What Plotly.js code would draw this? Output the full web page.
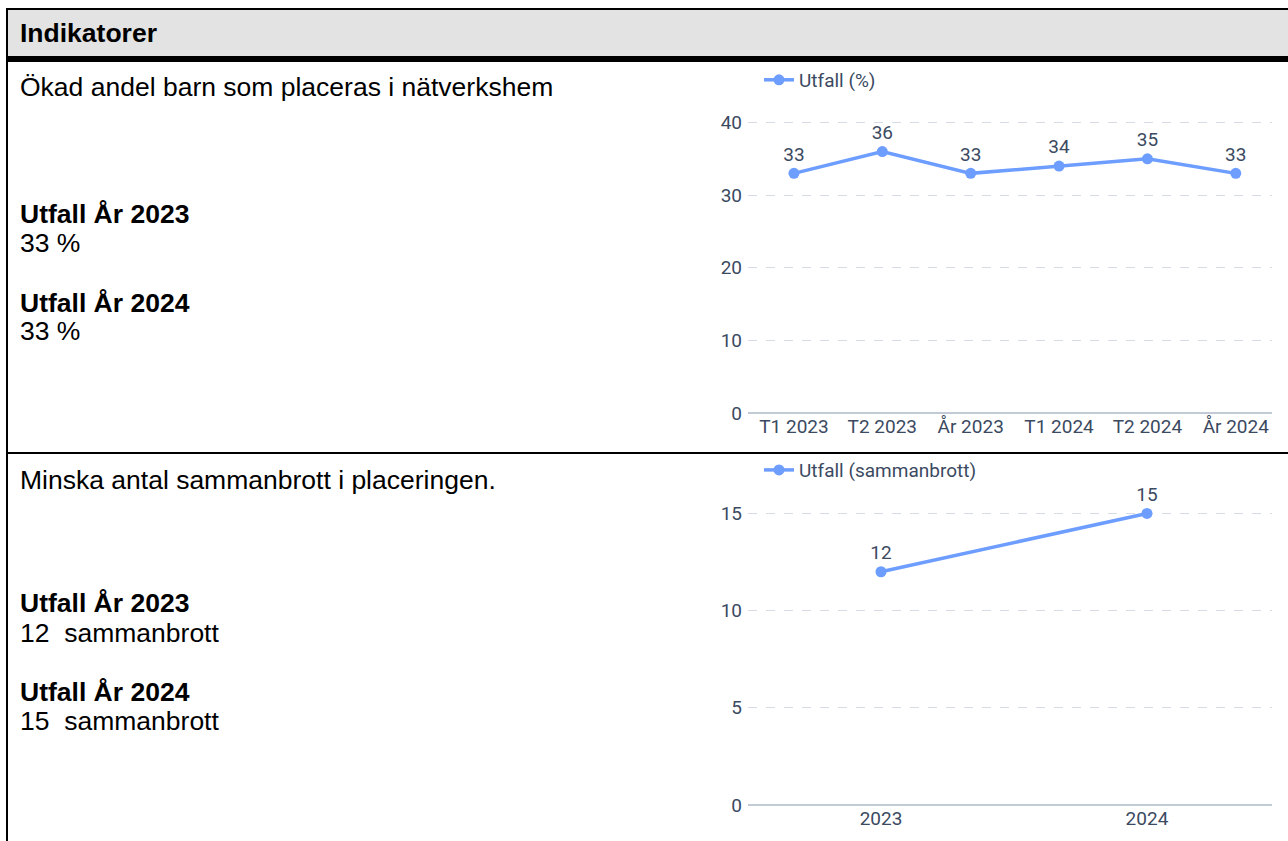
<!DOCTYPE html>
<html>
<head>
<meta charset="utf-8">
<script src="https://cdn.plot.ly/plotly-3.0.1.min.js"></script>
<style>
  html, body { margin: 0; padding: 0; background: #fff; width: 1288px; height: 841px; overflow: hidden; }
  .frame { position: absolute; background: #000; }
  .hdr { position: absolute; left: 8px; top: 10px; width: 1290px; height: 46px; background: #e3e3e3; }
  .t { position: absolute; left: 20px; font-family: "Liberation Sans", Arial, sans-serif; font-size: 26.5px; color: #000; white-space: pre; line-height: 28px; }
  .b { font-weight: bold; }
  .chart { position: absolute; left: 700px; width: 588px; height: 385px; }
</style>
</head>
<body>
<div class="hdr"></div>
<div class="frame" style="left:6px; top:8px; width:1290px; height:2px;"></div>
<div class="frame" style="left:6px; top:8px; width:2px; height:840px;"></div>
<div class="frame" style="left:6px; top:56px; width:1290px; height:6px;"></div>
<div class="frame" style="left:6px; top:452px; width:1290px; height:2px;"></div>
<div class="t b" style="top:19px;">Indikatorer</div>

<div class="t" style="top:73px;">Ökad andel barn som placeras i nätverkshem</div>
<div class="t b" style="top:200px;">Utfall År 2023</div>
<div class="t" style="top:229px;">33 %</div>
<div class="t b" style="top:289px;">Utfall År 2024</div>
<div class="t" style="top:317px;">33 %</div>

<div class="t" style="top:466px;">Minska antal sammanbrott i placeringen.</div>
<div class="t b" style="top:589px;">Utfall År 2023</div>
<div class="t" style="top:619px;">12  sammanbrott</div>
<div class="t b" style="top:678px;">Utfall År 2024</div>
<div class="t" style="top:707px;">15  sammanbrott</div>

<div id="c1" class="chart" style="top:65px;"></div>
<div id="c2" class="chart" style="top:458px;"></div>

<script>
const periods1 = ["T1 2023", "T2 2023", "År 2023", "T1 2024", "T2 2024", "År 2024"];
const utfallPct = [33, 36, 33, 34, 35, 33];
const name1 = "Utfall (%)";

const years2 = ["2023", "2024"];
const utfallBrott = [12, 15];
const name2 = "Utfall (sammanbrott)";

const BLUE = "#6d9dff";
const TXT = "#3b4a61";
const FONT = "Roboto, sans-serif";
const FS = 19;

function makeTrace(x, y, name) {
  return {
    type: "scatter", mode: "lines+markers+text",
    x: x, y: y, name: name,
    text: y.map(String), textposition: "top center",
    textfont: {family: FONT, size: FS, color: TXT},
    line: {color: BLUE, width: 3.5},
    marker: {color: BLUE, size: 11},
    cliponaxis: false, hoverinfo: "x+y"
  };
}

function makeLayout(xr, yr, dtick, t, b, legY) {
  return {
    width: 588, height: 385,
    margin: {l: 48, r: 16, t: t, b: b, pad: 0, autoexpand: false},
    paper_bgcolor: "rgba(0,0,0,0)", plot_bgcolor: "rgba(0,0,0,0)",
    font: {family: FONT, size: FS, color: TXT},
    showlegend: true,
    legend: {orientation: "h", x: 0.021, xanchor: "left", y: legY, yanchor: "middle",
             font: {family: FONT, size: FS, color: TXT}, bgcolor: "rgba(0,0,0,0)"},
    xaxis: {type: "category", range: xr, showgrid: false, zeroline: false, showline: false,
            ticks: "", tickfont: {family: FONT, size: FS, color: TXT}, fixedrange: true},
    yaxis: {range: yr, dtick: dtick, tick0: 0, showgrid: true, gridcolor: "#d6dce5", griddash: "dash", gridwidth: 1,
            zeroline: true, zerolinecolor: "#c2cad6", zerolinewidth: 2, showline: false,
            ticks: "", ticklabelstandoff: 5, tickfont: {family: FONT, size: FS, color: TXT}, fixedrange: true}
  };
}

Plotly.newPlot("c1", [makeTrace(periods1, utfallPct, name1)],
  makeLayout([-0.52, 5.41], [0, 42], 10, 43, 37, 1.092), {displayModeBar: false, staticPlot: true});
Plotly.newPlot("c2", [makeTrace(years2, utfallBrott, name2)],
  makeLayout([-0.5, 1.47], [0, 16], 5, 36, 38, 1.077), {displayModeBar: false, staticPlot: true});
</script>
</body>
</html>
